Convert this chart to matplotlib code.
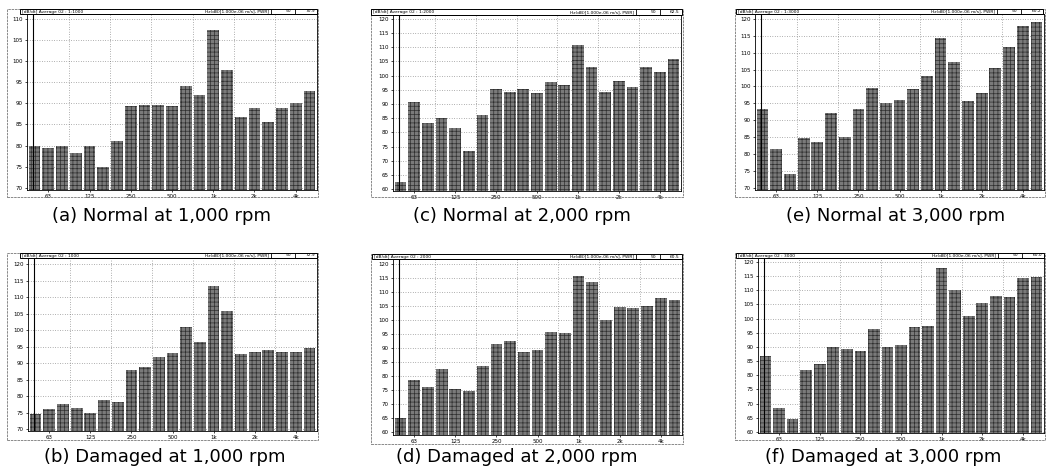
import numpy as np
import matplotlib.pyplot as plt
from matplotlib.patches import Rectangle

W, H = 1046, 473

# 1/3 octave bands 50 Hz .. 5 kHz (21 bands)
bands = ['50', '63', '80', '100', '125', '160', '200', '250', '315', '400', '500',
         '630', '800', '1k', '1.25k', '1.6k', '2k', '2.5k', '3.15k', '4k', '5k']
tick_idx = [1, 4, 7, 10, 13, 16, 19]
tick_labels = ['63', '125', '250', '500', '1k', '2k', '4k']

# levels (dB)
normal_1000 = [79.8, 79.4, 79.9, 78.2, 80.0, 74.9, 81.1, 89.3, 89.5, 89.5, 89.3,
               94.2, 91.9, 107.3, 98.0, 86.7, 88.9, 85.5, 88.9, 90.0, 93.0]
damaged_1000 = [74.7, 76.1, 77.8, 76.4, 75.1, 78.8, 78.4, 87.9, 88.9, 91.9, 93.0,
                101.0, 96.5, 113.4, 105.7, 92.7, 93.4, 93.9, 93.4, 93.4, 94.7]
normal_2000 = [62.4, 90.8, 83.4, 84.9, 81.6, 73.5, 86.1, 95.3, 94.1, 95.3, 93.8,
               97.8, 96.8, 110.8, 103.2, 94.1, 98.1, 96.1, 103.2, 101.2, 105.9]
damaged_2000 = [64.8, 78.4, 76.0, 82.3, 75.4, 74.6, 83.5, 91.2, 92.4, 88.6, 89.1,
                95.6, 95.2, 115.8, 113.4, 99.8, 104.5, 104.2, 104.9, 107.9, 106.9]
normal_3000 = [93.4, 81.6, 74.0, 84.6, 83.6, 92.0, 84.9, 93.2, 99.7, 95.2, 96.0,
               99.2, 103.2, 114.3, 107.2, 95.7, 98.1, 105.6, 111.8, 117.9, 119.2]
damaged_3000 = [86.9, 68.5, 64.6, 82.0, 83.8, 90.0, 89.1, 88.7, 96.5, 89.9, 90.8,
                97.1, 97.3, 117.9, 110.2, 100.8, 105.5, 107.9, 107.6, 114.4, 114.7]

captions = ['(a) Normal at 1,000 rpm', '(c) Normal at 2,000 rpm', '(e) Normal at 3,000 rpm',
            '(b) Damaged at 1,000 rpm', '(d) Damaged at 2,000 rpm', '(f) Damaged at 3,000 rpm']
header_left = ['[dB/dt] Average 02 : 1:1000', '[dB/dt] Average 02 : 1:2000',
               '[dB/dt] Average 02 : 1:3000', '[dB/dt] Average 02 : 1000',
               '[dB/dt] Average 02 : 2000', '[dB/dt] Average 02 : 3000']
header_right = 'Hz(dB)[1.000e-06 m/s], PWR]'
header_val = ['70.9', '62.5', '60.2', '72.9', '60.5', '60.0']

series = [normal_1000, normal_2000, normal_3000, damaged_1000, damaged_2000, damaged_3000]
yticks = [np.arange(70, 111, 5), np.arange(60, 121, 5), np.arange(70, 121, 5),
          np.arange(70, 121, 5), np.arange(60, 121, 5), np.arange(60, 121, 5)]
ylims = [(69.45, 111.2), (59.3, 121.4), (69.3, 121.5),
         (69.5, 121.9), (58.9, 121.7), (59.6, 121.4)]

# pixel layout: frame box, header box, plot box, caption centre
frames = [(7, 9, 318, 197), (371, 9, 683, 197), (735, 9, 1045, 197),
          (7, 253, 318, 440), (371, 254, 683, 444), (735, 253, 1045, 440)]
headers = [(20, 9, 317, 14), (371, 9, 682, 15), (736, 9, 1043, 14),
           (20, 253, 317, 258), (372, 254, 682, 259), (736, 253, 1044, 258)]
plots = [(27, 14, 317, 190), (393, 15, 681, 191), (755, 14, 1044, 190),
         (28, 258, 317, 431), (393, 259, 682, 435), (758, 258, 1044, 433)]
cap_xy = [(161, 216), (522, 216), (896, 216), (165, 457), (517, 457), (883, 457)]


def px_rect(x0, y0, x1, y1):
    return [x0 / W, 1 - y1 / H, (x1 - x0) / W, (y1 - y0) / H]


plt.rcParams['hatch.linewidth'] = 0.5
fig = plt.figure(figsize=(W / 100, H / 100), dpi=100)

x = np.arange(len(bands))
for i, vals in enumerate(series):
    # outer frame of the screen capture
    fx0, fy0, fx1, fy1 = frames[i]
    fig.patches.append(Rectangle((fx0 / W, 1 - fy1 / H), (fx1 - fx0) / W, (fy1 - fy0) / H,
                                 transform=fig.transFigure, fill=False,
                                 edgecolor='#777777', lw=0.6, ls=(0, (3, 1))))
    # header strip
    hx0, hy0, hx1, hy1 = headers[i]
    fig.patches.append(Rectangle((hx0 / W, 1 - hy1 / H), (hx1 - hx0) / W, (hy1 - hy0) / H,
                                 transform=fig.transFigure, fill=False,
                                 edgecolor='black', lw=0.7))
    hy = 1 - (hy0 + hy1) / 2 / H
    fig.text((hx0 + 2) / W, hy, header_left[i], fontsize=3.2, va='center', ha='left')
    fig.text((hx1 - 48) / W, hy, header_right, fontsize=3.2, va='center', ha='right')
    fig.text((hx1 - 26) / W, hy, '50', fontsize=3.2, va='center', ha='right')
    fig.text((hx1 - 2) / W, hy, header_val[i], fontsize=3.2, va='center', ha='right')
    for bx in (hx1 - 46, hx1 - 22):
        fig.lines.append(plt.Line2D([bx / W, bx / W], [1 - hy0 / H, 1 - hy1 / H],
                                    transform=fig.transFigure, color='black', lw=0.6))

    ax = fig.add_axes(px_rect(*plots[i]))
    ax.set_axisbelow(True)
    ax.bar(x, vals, width=0.86, color='#7a7a7a', edgecolor='#2e2e2e',
           hatch='++++', linewidth=0)
    ax.axvline(-0.1, color='black', lw=0.8)
    ax.set_xlim(-0.55, len(bands) - 0.45)
    ax.set_ylim(*ylims[i])
    ax.set_yticks(yticks[i])
    ax.set_yticklabels([str(v) for v in yticks[i]])
    ax.set_xticks(tick_idx)
    ax.set_xticklabels(tick_labels)
    ax.tick_params(axis='both', labelsize=4, length=1.5, width=0.5, pad=1.5)
    ax.set_xticks(np.arange(2.5, 18, 3), minor=True)
    ax.tick_params(axis='x', which='minor', length=0)
    ax.grid(axis='y', which='major', ls=(0, (1, 2.5)), color='#666666', lw=0.5)
    ax.grid(axis='x', which='minor', ls=(0, (1, 2.5)), color='#666666', lw=0.5)
    for s in ax.spines.values():
        s.set_linewidth(0.6)

    cx, cy = cap_xy[i]
    fig.text(cx / W, 1 - cy / H, captions[i], fontsize=13, ha='center', va='center')

fig.savefig('out.png', dpi=100)
